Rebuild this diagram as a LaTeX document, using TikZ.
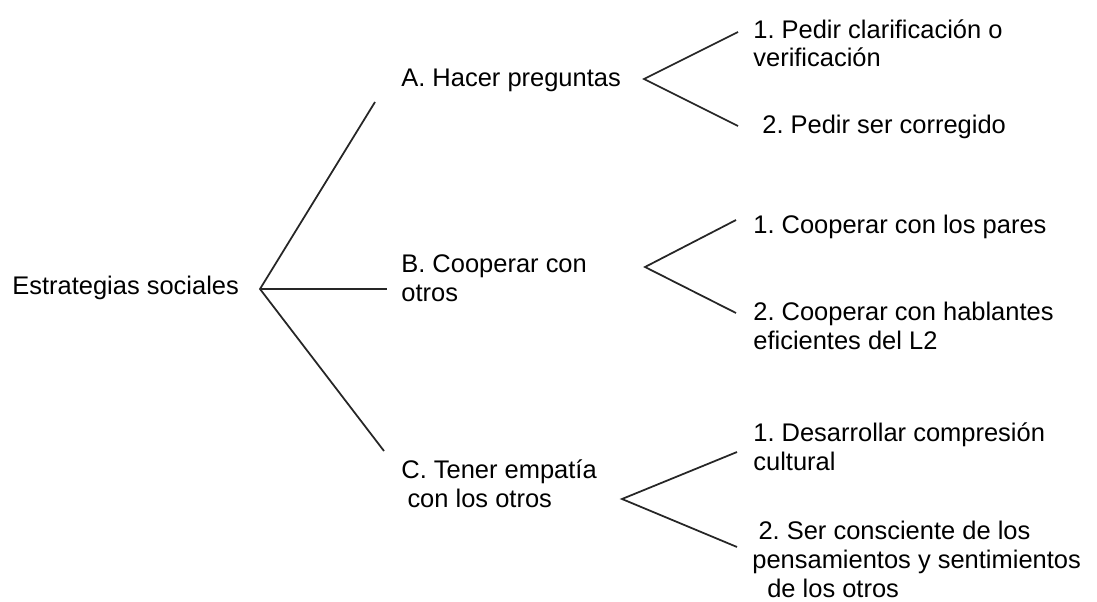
\documentclass[tikz,border=0pt]{standalone}
\usepackage{fontspec}
\setmainfont{Liberation Sans}
\usepackage{tikz}
\frenchspacing
\tikzstyle{txt}=[anchor=base west, inner sep=0pt, align=left, font=\fontsize{14.5}{16.5}\selectfont]
\tikzstyle{br}=[line width=1pt, black!85]

\begin{document}
\begin{tikzpicture}[x=.02cm, y=-.02cm]
  \useasboundingbox (0,0) rectangle (1097,601);
  % texts (base = last line)
  \node[txt] (root) at (12,294) {Estrategias sociales};
  \node[txt] (ra) at (401,87) {A. Hacer preguntas};
  \node[txt] (rb) at (401,301) {B. Cooperar con\\otros};
  \node[txt] (rc) at (401,507) {C. Tener empat\'ia\\\hspace{3.5pt}con los otros};
  \node[txt] (a1) at (753,67) {1. Pedir clarificaci\'on o\\verificaci\'on};
  \node[txt] (a2) at (762,133) {2. Pedir ser corregido};
  \node[txt] (b1) at (753,233) {1. Cooperar con los pares};
  \node[txt] (b2) at (753,349) {2. Cooperar con hablantes\\eficientes del L2};
  \node[txt] (c1) at (753,470) {1. Desarrollar compresi\'on\\cultural};
  \node[txt] (c2) at (752,597) {\hspace{3.5pt}2. Ser consciente de los\\pensamientos y sentimientos\\\hspace{8.5pt}de los otros};
  % fork points
  \coordinate (o) at (260,289);
  \coordinate (oa) at (375,102);
  \coordinate (ob) at (387,289);
  \coordinate (oc) at (384,451);
  \coordinate (fa) at (644,79);
  \coordinate (fa1) at (738,32);
  \coordinate (fa2) at (738,126);
  \coordinate (fb) at (645,267);
  \coordinate (fb1) at (736,220);
  \coordinate (fb2) at (736,313);
  \coordinate (fc) at (622,499);
  \coordinate (fc1) at (737,452);
  \coordinate (fc2) at (737,547);
  % branches
  \draw[br] (oa) -- (o) -- (oc);
  \draw[br] (o) -- (ob);
  \foreach \f in {a,b,c}
    \draw[br] (f\f1) -- (f\f) -- (f\f2);
\end{tikzpicture}
\end{document}
